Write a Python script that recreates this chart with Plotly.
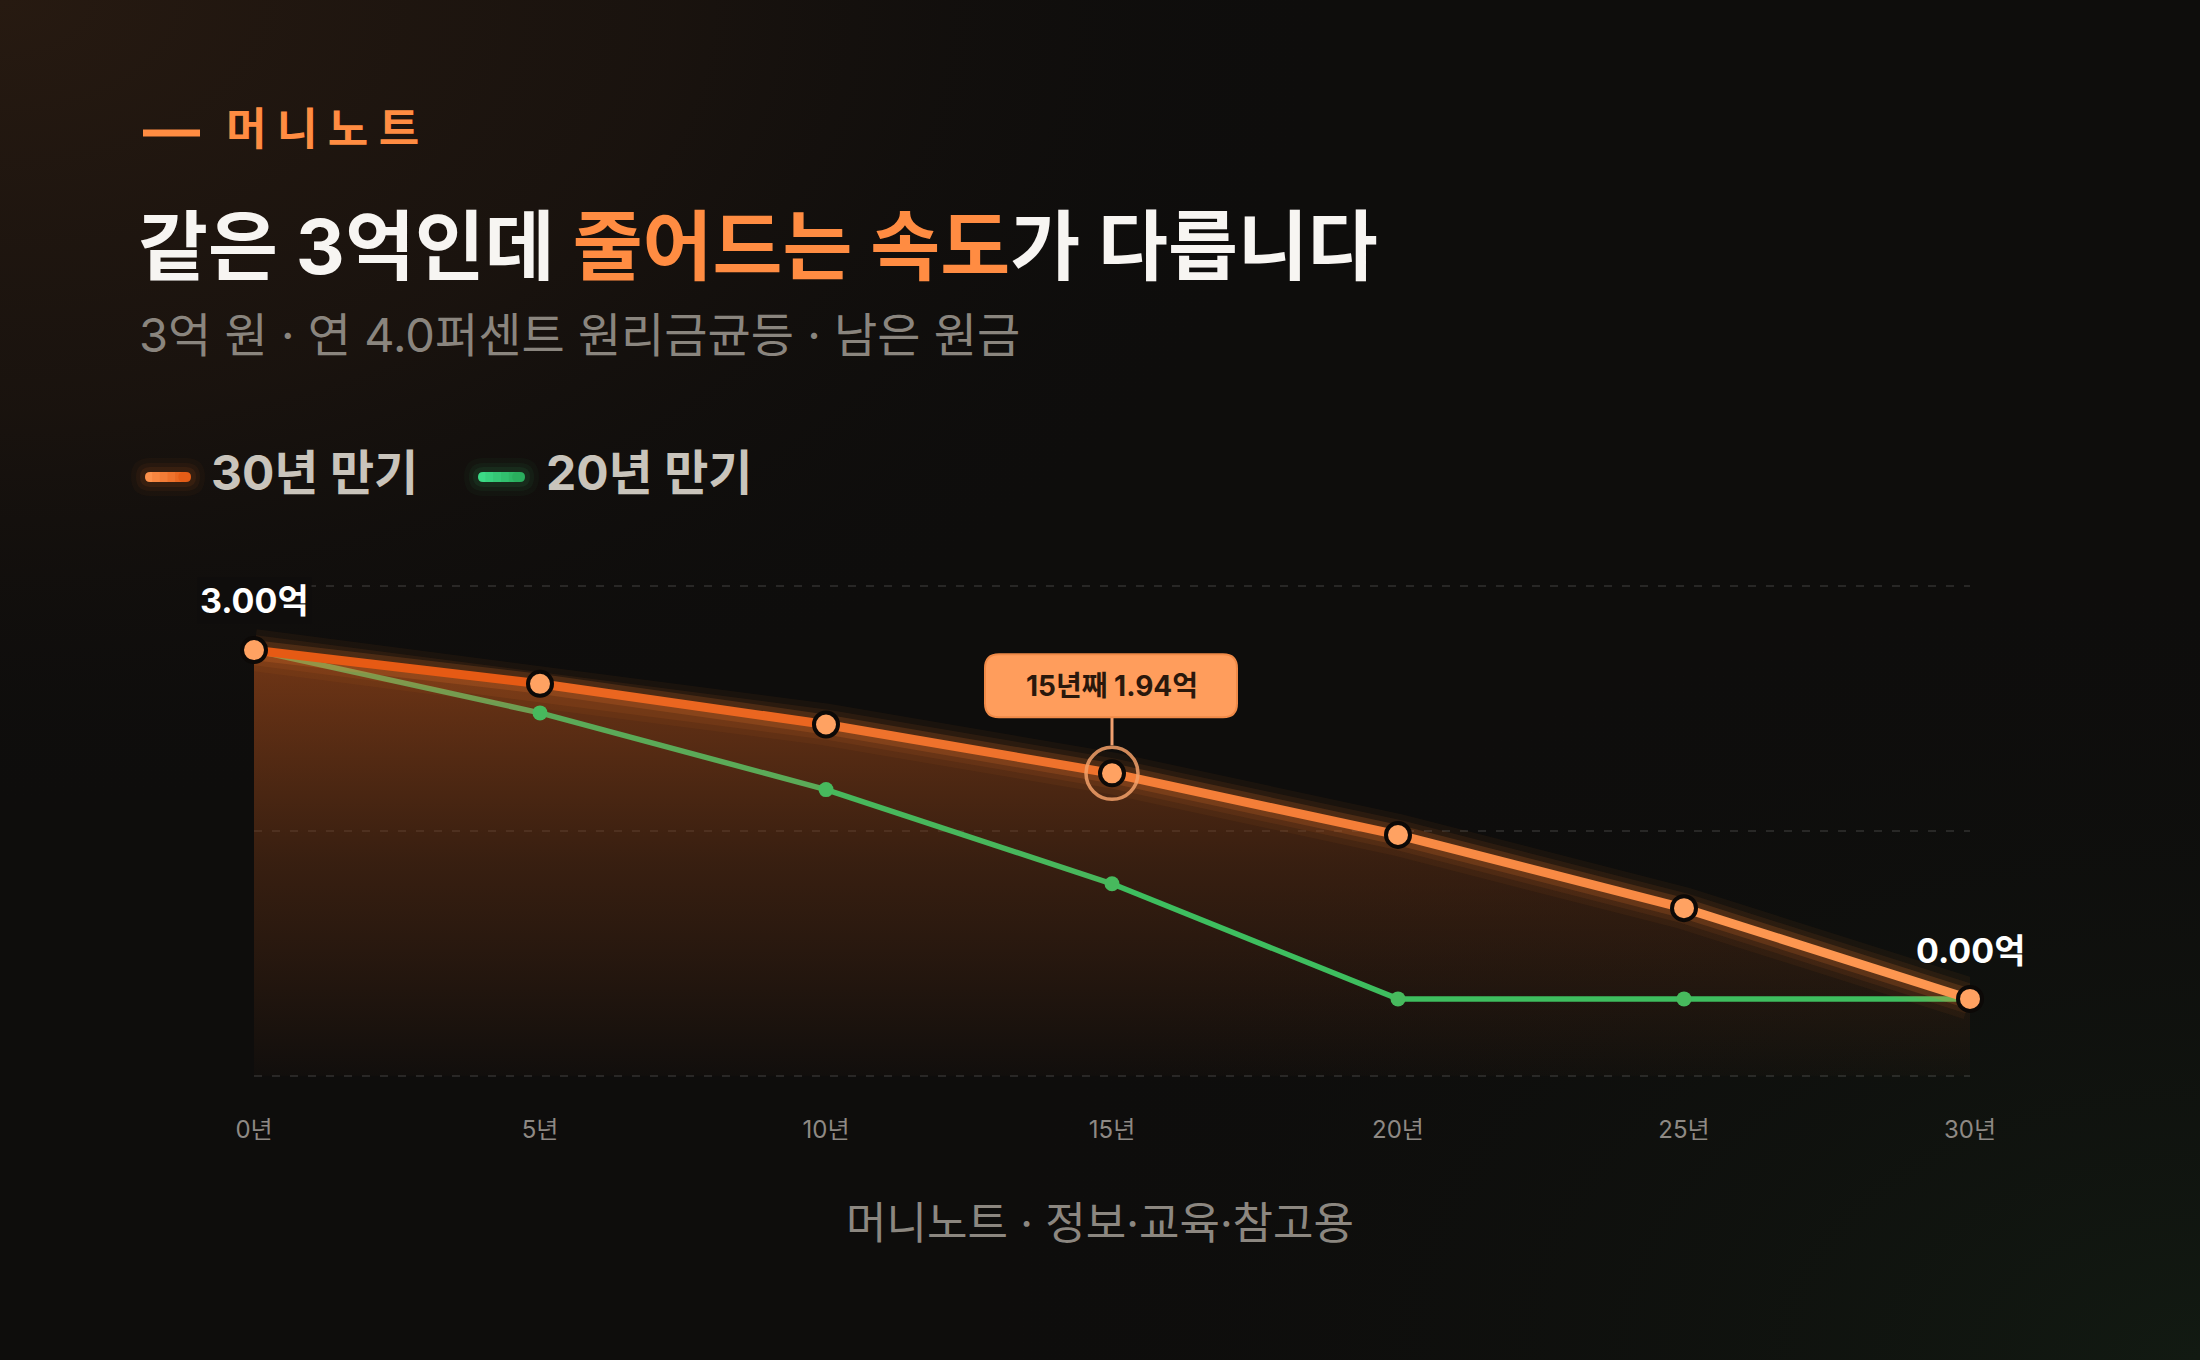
import base64
import plotly.graph_objects as go

# ---------------- data ----------------
YEARS = [0, 5, 10, 15, 20, 25, 30]
TICK_LABELS = ["0년", "5년", "10년", "15년", "20년", "25년", "30년"]
BAL_30 = [3.00, 2.71, 2.36, 1.94, 1.41, 0.78, 0.00]   # 억 원, 30년 만기
BAL_20 = [3.00, 2.46, 1.80, 0.99, 0.00, 0.00, 0.00]   # 억 원, 20년 만기
SERIES_NAMES = ["30년 만기", "20년 만기"]
HIGHLIGHT_IDX = 3
BRAND = "머 니 노 트"
TITLE_PARTS = ["같은 3억인데 ", "줄어드는 속도", "가 다릅니다"]
SUBTITLE = "3억 원 · 연 4.0퍼센트 원리금균등 · 남은 원금"
FOOTER = "머니노트 · 정보·교육·참고용"

# ---------------- layout geometry ----------------
W, H = 2200, 1360
L, R, T, B = 254, 1970, 585, 1077
Y_RANGE = [-0.672, 3.56]
GRID_VALS = [-0.662, 1.444, 3.55]
FONT = "Inter, Noto Sans CJK KR"

ORANGE = "#ff8c42"


def px(x):
    return (x - L) / (R - L)


def py(y):
    return (B - y) / (B - T)


def lerp_color(c0, c1, t, a=1.0):
    r = round(c0[0] + (c1[0] - c0[0]) * t)
    g = round(c0[1] + (c1[1] - c0[1]) * t)
    b = round(c0[2] + (c1[2] - c0[2]) * t)
    return f"rgba({r},{g},{b},{a})"


def rrect(x0, y0, x1, y1, r, conv=None):
    if conv is None:
        conv = lambda x, y: (x, y)
    pts = [
        ("M", [(x0 + r, y0)]), ("L", [(x1 - r, y0)]), ("Q", [(x1, y0), (x1, y0 + r)]),
        ("L", [(x1, y1 - r)]), ("Q", [(x1, y1), (x1 - r, y1)]), ("L", [(x0 + r, y1)]),
        ("Q", [(x0, y1), (x0, y1 - r)]), ("L", [(x0, y0 + r)]), ("Q", [(x0, y0), (x0 + r, y0)]),
    ]
    s = ""
    for cmd, ps in pts:
        s += cmd + " " + " ".join(f"{conv(a, b)[0]:.5f},{conv(a, b)[1]:.5f}" for a, b in ps) + " "
    return s + "Z"


def paper_conv(x, y):
    return px(x), py(y)


fig = go.Figure()

# background (svg gradient image)
svg = """<svg xmlns='http://www.w3.org/2000/svg' width='2200' height='1360' viewBox='0 0 2200 1360'>
<defs>
<radialGradient id='a' gradientUnits='userSpaceOnUse' cx='0' cy='0' r='1' gradientTransform='matrix(1350 0 0 820 0 0)'>
<stop offset='0' stop-color='#271a11' stop-opacity='1'/>
<stop offset='0.5' stop-color='#1e150f' stop-opacity='0.7'/>
<stop offset='1' stop-color='#0e0d0c' stop-opacity='0'/>
</radialGradient>
<radialGradient id='b' gradientUnits='userSpaceOnUse' cx='0' cy='0' r='1' gradientTransform='matrix(1250 0 0 800 2200 1360)'>
<stop offset='0' stop-color='#121a12' stop-opacity='1'/>
<stop offset='1' stop-color='#0e0d0c' stop-opacity='0'/>
</radialGradient>
</defs>
<rect width='2200' height='1360' fill='#0e0d0c'/>
<rect width='2200' height='1360' fill='url(#a)'/>
<rect width='2200' height='1360' fill='url(#b)'/>
</svg>"""
bg_src = "data:image/svg+xml;base64," + base64.b64encode(svg.encode()).decode()

# ---------------- fill under 30년 ----------------
fig.add_trace(go.Scatter(x=YEARS, y=[GRID_VALS[0]] * len(YEARS), mode="lines",
                         line=dict(width=0), hoverinfo="skip", showlegend=False))
fig.add_trace(go.Scatter(
    x=YEARS, y=BAL_30, mode="lines", line=dict(width=0), fill="tonexty",
    fillgradient=dict(type="vertical",
                      colorscale=[[0, "rgba(130,62,24,0.03)"], [0.5, "rgba(130,62,24,0.36)"],
                                  [1, "rgba(138,64,24,0.8)"]]),
    hoverinfo="skip", showlegend=False))

# ---------------- 20년 line ----------------
g0, g1 = (120, 150, 80), (62, 190, 95)
for i in range(len(YEARS) - 1):
    t = min(1.0, (i + 0.5) / 3.0)
    fig.add_trace(go.Scatter(x=YEARS[i:i + 2], y=BAL_20[i:i + 2], mode="lines",
                             line=dict(color=lerp_color(g0, g1, t), width=5.5),
                             hoverinfo="skip", showlegend=False, cliponaxis=False))

# ---------------- 30년 line with glow ----------------
for w, a in [(42, 0.05), (30, 0.08), (20, 0.16)]:
    fig.add_trace(go.Scatter(x=YEARS, y=BAL_30, mode="lines",
                             line=dict(color=f"rgba(255,128,48,{a})", width=w),
                             hoverinfo="skip", showlegend=False, cliponaxis=False))
o0, o1 = (228, 84, 14), (255, 156, 86)
for i in range(len(YEARS) - 1):
    t = (i + 0.5) / (len(YEARS) - 1)
    fig.add_trace(go.Scatter(x=YEARS[i:i + 2], y=BAL_30[i:i + 2], mode="lines",
                             line=dict(color=lerp_color(o0, o1, t), width=9),
                             hoverinfo="skip", showlegend=False, cliponaxis=False))

# markers
fig.add_trace(go.Scatter(x=YEARS, y=BAL_20, mode="markers",
                         marker=dict(size=15, color="#47b95d"),
                         hoverinfo="skip", showlegend=False, cliponaxis=False))
fig.add_trace(go.Scatter(x=[YEARS[HIGHLIGHT_IDX]], y=[BAL_30[HIGHLIGHT_IDX]], mode="markers",
                         marker=dict(size=52, symbol="circle-open", color="rgba(242,160,105,0.85)",
                                     line=dict(width=3.5)),
                         hoverinfo="skip", showlegend=False, cliponaxis=False))
fig.add_trace(go.Scatter(x=YEARS, y=BAL_30, mode="markers",
                         marker=dict(size=24, color="#ffa262", line=dict(width=4, color="#0c0907")),
                         hoverinfo="skip", showlegend=False, cliponaxis=False))

shapes = []
annotations = []

# tooltip box anchored to highlight point
hx, hy = YEARS[HIGHLIGHT_IDX], BAL_30[HIGHLIGHT_IDX]
shapes.append(dict(type="line", xref="x", yref="y", xsizemode="pixel", ysizemode="pixel",
                   xanchor=hx, yanchor=hy, x0=0, x1=0, y0=28, y1=58,
                   line=dict(color="#f0a070", width=3)))
shapes.append(dict(type="path", xref="x", yref="y", xsizemode="pixel", ysizemode="pixel",
                   xanchor=hx, yanchor=hy, path=rrect(-127, 56, 125, 119, 14),
                   fillcolor="#ff9d5c", line=dict(color="#f08a48", width=2), layer="above"))
annotations.append(dict(x=hx, y=hy, xref="x", yref="y", yshift=87, showarrow=False,
                        text=f"{hx}년째 {hy:.2f}억",
                        font=dict(family=FONT, size=28, color="#2a180c", weight=700)))

# end labels
annotations.append(dict(x=YEARS[0], y=BAL_30[0], xref="x", yref="y", yshift=50, showarrow=False,
                        text=f"{BAL_30[0]:.2f}억", bgcolor="#0f0d0c", borderpad=2,
                        font=dict(family=FONT, size=34, color="#ffffff", weight=700)))
annotations.append(dict(x=YEARS[-1], y=BAL_30[-1], xref="x", yref="y", yshift=48, showarrow=False,
                        text=f"{BAL_30[-1]:.2f}억",
                        font=dict(family=FONT, size=34, color="#ffffff", weight=700)))

# header
shapes.append(dict(type="line", xref="paper", yref="paper", x0=px(143), x1=px(200),
                   y0=py(133), y1=py(133), line=dict(color=ORANGE, width=7)))
annotations.append(dict(x=px(224), y=py(129), xref="paper", yref="paper", xanchor="left",
                        yanchor="middle", showarrow=False, text=BRAND,
                        font=dict(family=FONT, size=44, color=ORANGE, weight=700)))
annotations.append(dict(x=px(136), y=py(246), xref="paper", yref="paper", xanchor="left",
                        yanchor="middle", showarrow=False,
                        text=(f"{TITLE_PARTS[0]}<span style='color:{ORANGE}'>{TITLE_PARTS[1]}</span>"
                              f"{TITLE_PARTS[2]}"),
                        font=dict(family=FONT, size=76, color="#f7f5f2", weight=700)))
annotations.append(dict(x=px(137), y=py(334), xref="paper", yref="paper", xanchor="left",
                        yanchor="middle", showarrow=False, text=SUBTITLE,
                        font=dict(family=FONT, size=47, color="#8a857e", weight=400)))

# legend
leg = [(145, 191, 212, (255, 150, 80), (226, 88, 18), "255,120,40"),
       (478, 525, 547, (62, 222, 138), (40, 170, 90), "60,210,120")]
for (x0, x1, tx, c0, c1, glow), name in zip(leg, SERIES_NAMES):
    for pad, a in [(14, 0.03), (9, 0.05), (5, 0.08)]:
        shapes.append(dict(type="path", xref="paper", yref="paper",
                           path=rrect(x0 - pad, 477 - 5 - pad, x1 + pad, 477 + 5 + pad, 5 + pad,
                                      paper_conv),
                           fillcolor=f"rgba({glow},{a})", line=dict(width=0)))
    n = 6
    seg = (x1 - x0) / n
    for k in range(n):
        a = x0 + k * seg
        b = a + seg
        col = lerp_color(c0, c1, (k + 0.5) / n)
        if k == 0:
            p = rrect(a, 472, b + 5, 482, 5, paper_conv)
        elif k == n - 1:
            p = rrect(a - 5, 472, b, 482, 5, paper_conv)
        else:
            p = rrect(a - 0.5, 472, b + 0.5, 482, 0, paper_conv)
        shapes.append(dict(type="path", xref="paper", yref="paper", path=p,
                           fillcolor=col, line=dict(width=0)))
    annotations.append(dict(x=px(tx - 3), y=py(472), xref="paper", yref="paper", xanchor="left",
                            yanchor="middle", showarrow=False, text=name,
                            font=dict(family=FONT, size=48, color="#c9c4bb", weight=700)))

# footer
annotations.append(dict(x=px(1100), y=py(1223), xref="paper", yref="paper", xanchor="center",
                        yanchor="middle", showarrow=False, text=FOOTER,
                        font=dict(family=FONT, size=44, color="#8c8780", weight=400)))

fig.update_layout(
    width=W, height=H,
    margin=dict(l=L, r=W - R, t=T, b=H - B, pad=0),
    paper_bgcolor="#0e0d0c", plot_bgcolor="rgba(0,0,0,0)",
    showlegend=False, hovermode=False,
    images=[dict(source=bg_src, xref="paper", yref="paper", x=px(0), y=py(0),
                 sizex=W / (R - L), sizey=H / (B - T), xanchor="left", yanchor="top",
                 sizing="stretch", layer="below")],
    shapes=shapes, annotations=annotations,
    xaxis=dict(range=[0, 30], tickvals=YEARS, ticktext=TICK_LABELS, showgrid=False,
               zeroline=False, showline=False, ticks="", ticklabelstandoff=36,
               tickfont=dict(family=FONT, size=24, color="#8e8984")),
    yaxis=dict(range=Y_RANGE, tickvals=GRID_VALS, showticklabels=False, showgrid=True,
               gridcolor="rgba(255,255,255,0.11)", gridwidth=1.5, griddash="8px,10px",
               zeroline=False, showline=False),
)

fig.write_html("out.html",
               config={"displayModeBar": False, "staticPlot": True},
               post_script="document.body.style.margin='0';"
                           "document.body.style.background='#0e0d0c';"
                           "document.body.style.overflow='hidden';")
